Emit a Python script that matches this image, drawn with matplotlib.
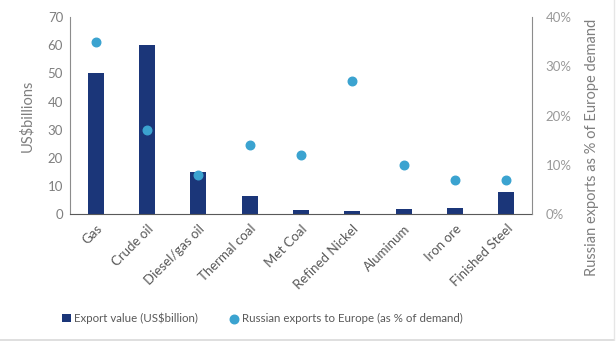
import numpy as np
import matplotlib.pyplot as plt
from matplotlib.lines import Line2D
from matplotlib.ticker import PercentFormatter

plt.rcParams['font.family'] = ['Lato', 'DejaVu Sans']

# 商品类别与数据
categories = ['Gas', 'Crude oil', 'Diesel/gas oil', 'Thermal coal', 'Met Coal',
              'Refined Nickel', 'Aluminum', 'Iron ore', 'Finished Steel']
export_value = [50, 60, 15, 6.4, 1.4, 1.2, 1.8, 2.2, 8]      # US$ billions
europe_share = [35, 17, 8, 14, 12, 27, 10, 7, 7]             # % of Europe demand

bar_color = '#1b3679'
dot_color = '#3ba3d0'
text_color = '#7f7f7f'
spine_color = '#8c8c8c'

fig = plt.figure(figsize=(6.16, 3.41), dpi=100)
ax = fig.add_axes([0.1136, 0.372, 0.75, 0.578])
x = np.arange(len(categories))

ax.bar(x, export_value, width=0.31, color=bar_color, zorder=2,
       label='Export value (US$billion)')
ax.set_xlim(-0.5, len(categories) - 0.5)
ax.set_ylim(0, 70)
ax.set_yticks(range(0, 71, 10))
ax.set_ylabel('US$billions', color=text_color, fontsize=10.5)
ax.yaxis.set_label_coords(-0.078, 0.5)
ax.set_xticks(x)
ax.set_xticklabels(categories, rotation=45, ha='right', rotation_mode='anchor',
                   fontsize=9.5, color='#595959')
ax.tick_params(axis='x', length=0, pad=6)
ax.tick_params(axis='y', length=0, labelsize=9.5, labelcolor=text_color, pad=5)
ax.spines['top'].set_visible(False)
ax.spines['right'].set_visible(False)
ax.spines['left'].set_color(spine_color)
ax.spines['bottom'].set_color('#595959')

# 右轴：占欧洲需求比例
ax2 = ax.twinx()
ax2.scatter(x, europe_share, s=38, color=dot_color, zorder=3,
            label='Russian exports to Europe (as % of demand)')
ax2.set_ylim(0, 40)
ax2.set_yticks(range(0, 41, 10))
ax2.yaxis.set_major_formatter(PercentFormatter(decimals=0))
ax2.tick_params(axis='y', length=0, labelsize=9.5, labelcolor='#999999', pad=10)
ax2.set_ylabel('Russian exports as % of Europe demand', color=text_color,
               fontsize=10.5)
ax2.yaxis.set_label_coords(1.115, 0.34)
for s in ['top', 'left', 'bottom']:
    ax2.spines[s].set_visible(False)
ax2.spines['right'].set_color(spine_color)

h1, l1 = ax.get_legend_handles_labels()
h2, l2 = ax2.get_legend_handles_labels()
leg = fig.legend(h1 + h2, l1 + l2, loc='center', bbox_to_anchor=(0.426, 0.067),
                 ncol=2, frameon=False, fontsize=8.3, handlelength=0.7,
                 handleheight=0.7, handletextpad=0.3, columnspacing=2.8)
for t in leg.get_texts():
    t.set_color('#595959')

# 外框细线
fig.add_artist(Line2D([0, 0.997], [0.004, 0.004], color='#d9d9d9', lw=1.2))
fig.add_artist(Line2D([0.997, 0.997], [0.004, 1], color='#e6e6e6', lw=1.0))

fig.savefig('out.png', dpi=100)
